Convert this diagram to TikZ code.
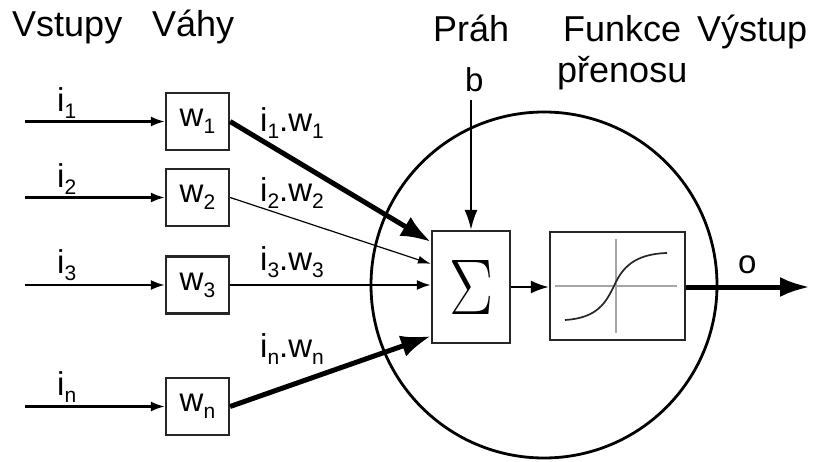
\documentclass[tikz,border=0pt]{standalone}
\usepackage{fontspec}
\setmainfont{Liberation Sans}
\usetikzlibrary{arrows.meta}
% lowered index for i_1, w_1 ...
\newcommand{\lowidx}[1]{\raisebox{-7pt}{\fontsize{21}{21}\selectfont #1}}
\begin{document}
\begin{tikzpicture}[x=1pt,y=-1pt,
  font=\fontsize{33}{33}\selectfont,
  hdr/.style={anchor=base west, inner sep=0pt, font=\fontsize{36}{36}\selectfont},
  lbl/.style={anchor=base west, inner sep=0pt},
  frame/.style={draw=black!85, line width=2.2pt, inner sep=0pt},
  wbox/.style={frame, minimum width=63pt, minimum height=57pt},
  feed/.style={line width=2.3pt, -{Latex[length=14pt,width=10pt]}},
  heavy/.style={line width=5pt, -{Latex[length=30pt,width=22pt]}},
  light/.style={line width=1.2pt, -{Latex[length=13pt,width=8pt]}}
]
\useasboundingbox (0,0) rectangle (829,462);

% neuron body
\node[draw, circle, line width=2.8pt, minimum size=346pt, inner sep=0pt] (cell) at (544,285) {};

% headings
\node[hdr] (h1) at (12,37) {Vstupy};
\node[hdr] (h2) at (152,37) {Váhy};
\node[hdr] (h3) at (433,42) {Práh};
\node[hdr] (h4) at (563,42) {Funkce};
\node[hdr] (h5) at (697,42) {Výstup};
\node[hdr] (h6) at (557,83) {přenosu};

% weights
\node[wbox] (w1) at (197.5,121.5) {w\lowidx{1}};
\node[wbox] (w2) at (197.5,197.5) {w\lowidx{2}};
\node[wbox] (w3) at (197.5,285) {w\lowidx{3}};
\node[wbox] (wn) at (197.5,406.5) {w\lowidx{n}};

% inputs
\coordinate (s1) at (25,121.5);
\coordinate (s2) at (25,197.5);
\coordinate (s3) at (25,285);
\coordinate (sn) at (25,406.5);
\draw[feed] (s1) -- (w1.west);
\draw[feed] (s2) -- (w2.west);
\draw[feed] (s3) -- (w3.west);
\draw[feed] (sn) -- (wn.west);
\node[lbl] (l1) at (57,112) {i\lowidx{1}};
\node[lbl] (l2) at (57,188) {i\lowidx{2}};
\node[lbl] (l3) at (57,273) {i\lowidx{3}};
\node[lbl] (ln) at (57,395) {i\lowidx{n}};

% summation and transfer function
\node[frame, minimum width=78pt, minimum height=112pt, fill=white] (sig) at (471,287) {\resizebox{44pt}{54pt}{$\Sigma$}};
\node[frame, minimum width=135pt, minimum height=108pt] (tf) at (617.5,286) {};
\draw[black!35, line width=1.2pt] (555,286) -- (677,286);
\draw[black!35, line width=1.2pt] (616,239) -- (616,333);
\draw[black!85, line width=1.7pt] (565,320) .. controls (598,318) and (606,302) .. (614,286)
  .. controls (622,268) and (634,254) .. (667,253);

% weighted inputs into the sum
\draw[heavy] (w1.east) -- ([yshift=-12pt]sig.north west);
\draw[light] (w2.east) -- ([yshift=-34pt]sig.north west);
\draw[feed] (w3.east) -- (w3.east -| sig.west);
\draw[heavy] (wn.east) -- ([yshift=8pt]sig.south west);
\node[lbl] (p1) at (260,132) {i\lowidx{1}.w\lowidx{1}};
\node[lbl] (p2) at (260,202) {i\lowidx{2}.w\lowidx{2}};
\node[lbl] (p3) at (260,270) {i\lowidx{3}.w\lowidx{3}};
\node[lbl] (pn) at (260,357) {i\lowidx{n}.w\lowidx{n}};

% threshold
\node[lbl] (b) at (465,92) {b};
\coordinate (btop) at (471,100);
\draw[line width=2.2pt, -{Latex[length=20pt,width=13pt]}] (btop) -- (sig.north);

% sum to transfer, transfer to output
\draw[line width=2.2pt, -{Latex[length=18pt,width=13pt]}] (sig.east) -- (sig.east -| tf.west);
\coordinate (out) at (810,287);
\draw[line width=5pt, -{Latex[length=30pt,width=20pt]}] (tf.east |- out) -- (out);
\node[lbl] (o) at (738,273) {o};
\end{tikzpicture}
\end{document}
